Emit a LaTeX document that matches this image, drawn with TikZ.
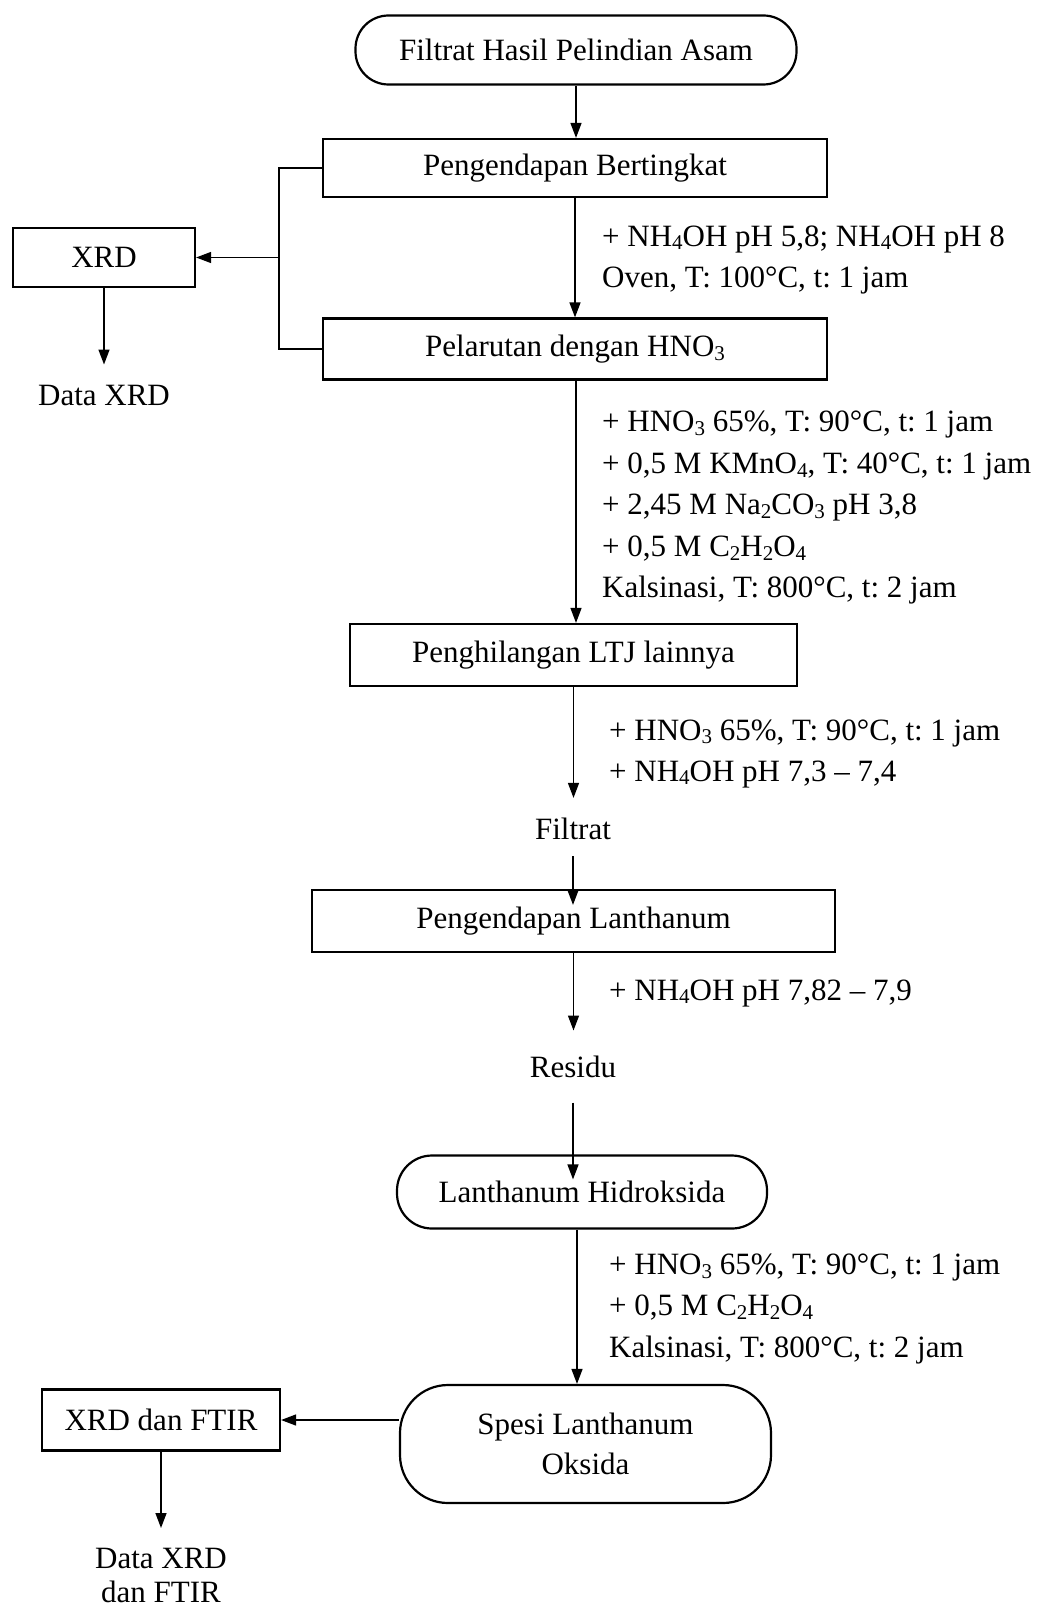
\documentclass[tikz,border=0pt]{standalone}
\usepackage{fontspec}
\setmainfont{Liberation Serif}
\usetikzlibrary{arrows.meta}
\newcommand{\sbx}[1]{\raisebox{-0.12em}{\fontsize{21}{21}\selectfont #1}}
\frenchspacing
\begin{document}
\begin{tikzpicture}[x=1pt,y=-1pt,
  every node/.style={font=\fontsize{31}{40}\selectfont, inner sep=0pt},
  boxnode/.style={draw, line width=2.2pt, inner sep=0pt},
  termnode/.style={draw, line width=2.2pt, inner sep=0pt, align=center},
  conn/.style={line width=1.4pt, -{Triangle[length=15pt,width=11pt]}},
  plainline/.style={line width=1.4pt},
  lbl/.style={anchor=base west}
]
\useasboundingbox (0,0) rectangle (1043,1608);

% main flow nodes
\node[termnode, minimum width=441pt, minimum height=69pt, rounded corners=33pt] (e1) at (576,50) {Filtrat Hasil Pelindian Asam};
\node[boxnode, minimum width=504pt, minimum height=58pt] (b1) at (575,168) {Pengendapan Bertingkat};
\node[boxnode, minimum width=504pt, minimum height=61pt] (b2) at (575,349) {Pelarutan dengan HNO\sbx{3}};
\node[boxnode, minimum width=182pt, minimum height=59pt] (xrd) at (104,257.5) {XRD};
\node (dx) at (104,395) {Data XRD};
\node[boxnode, minimum width=447pt, minimum height=62pt] (b3) at (573.5,655) {Penghilangan LTJ lainnya};
\node (fil) at (573,829) {Filtrat};
\node[boxnode, minimum width=523pt, minimum height=62pt] (b4) at (573.5,921) {Pengendapan Lanthanum};
\node (res) at (573,1066.6) {Residu};
\node[termnode, minimum width=370pt, minimum height=73pt, rounded corners=35pt] (e2) at (582,1192) {Lanthanum Hidroksida};
\node[termnode, minimum width=371pt, minimum height=118pt, rounded corners=48pt] (e3) at (585.5,1444) {Spesi Lanthanum\\Oksida};
\node[boxnode, minimum width=238pt, minimum height=61pt] (xf) at (161,1420) {XRD dan FTIR};
\node[align=center, anchor=north, font=\fontsize{31}{34}\selectfont] (dxf) at (161,1548) {Data XRD\\dan FTIR};

% condition labels
\node[lbl] (t1a) at (602,246) {+ NH\sbx{4}OH pH 5,8; NH\sbx{4}OH pH 8};
\node[lbl] (t1b) at (602,287) {Oven, T: 100°C, t: 1 jam};

\node[lbl] (t2a) at (602,431.5) {+ HNO\sbx{3} 65\%, T: 90°C, t: 1 jam};
\node[lbl] (t2b) at (602,473.6) {+ 0,5 M KMnO\sbx{4}, T: 40°C, t: 1 jam};
\node[lbl] (t2c) at (602,514.6) {+ 2,45 M Na\sbx{2}CO\sbx{3} pH 3,8};
\node[lbl] (t2d) at (602,556.7) {+ 0,5 M C\sbx{2}H\sbx{2}O\sbx{4}};
\node[lbl] (t2e) at (602,597.7) {Kalsinasi, T: 800°C, t: 2 jam};

\node[lbl] (t3a) at (609,740) {+ HNO\sbx{3} 65\%, T: 90°C, t: 1 jam};
\node[lbl] (t3b) at (609,781) {+ NH\sbx{4}OH pH 7,3 – 7,4};

\node[lbl] (t4a) at (609,1000) {+ NH\sbx{4}OH pH 7,82 – 7,9};

\node[lbl] (t5a) at (609,1274.6) {+ HNO\sbx{3} 65\%, T: 90°C, t: 1 jam};
\node[lbl] (t5b) at (609,1315.6) {+ 0,5 M C\sbx{2}H\sbx{2}O\sbx{4}};
\node[lbl] (t5c) at (609,1357.6) {Kalsinasi, T: 800°C, t: 2 jam};

% connectors
\draw[conn] (e1.south) -- (e1.south |- b1.north);
\draw[conn] (b1.south) -- (b1.south |- b2.north);
\coordinate (br) at (279,0);
\draw[plainline] (b1.west) -- (b1.west -| br) -- (b2.west -| br) -- (b2.west);
\draw[conn] (xrd.east -| br) -- (xrd.east);
\draw[conn] (xrd.south) -- ([yshift=20pt]dx.north);
\draw[conn] ([xshift=1pt]b2.south) -- ([xshift=1pt]b2.south |- b3.north);
\draw[conn] (b3.south) -- ([yshift=20pt]fil.north -| b3.south);
\draw[conn] ([yshift=-16pt]fil.south) -- ([yshift=-16pt]fil.south |- b4.north);
\draw[conn] (b4.south) -- ([yshift=25pt]res.north -| b4.south);
\draw[conn] ([yshift=-25pt]res.south) -- ([yshift=-25pt]res.south |- e2.north);
\draw[conn] ([xshift=-5pt]e2.south) -- ([xshift=-5pt]e2.south |- e3.north);
\draw[conn] (xf.east -| e3.west) -- (xf.east);
\draw[conn] (xf.south) -- ([yshift=20pt]dxf.north);
\end{tikzpicture}
\end{document}
